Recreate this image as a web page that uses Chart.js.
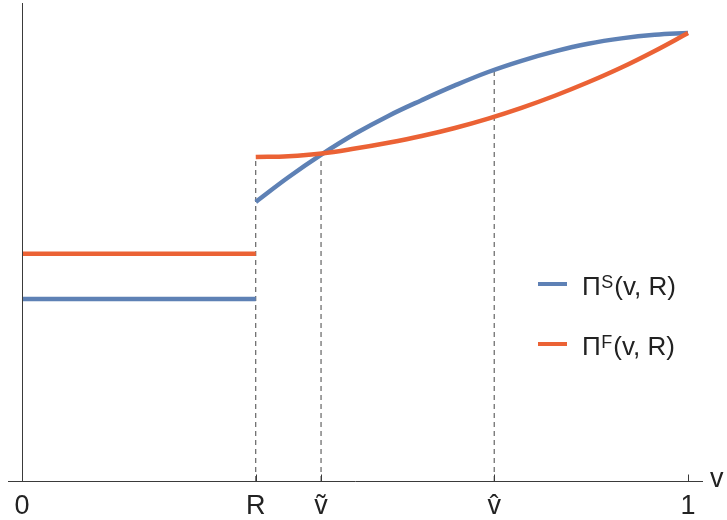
<!DOCTYPE html>
<html>
<head>
<meta charset="utf-8">
<script src="https://cdn.jsdelivr.net/npm/chart.js@4"></script>
<style>
html,body{margin:0;padding:0;background:#fff;}
#wrap{width:727px;height:520px;}
</style>
</head>
<body>
<div id="wrap"><canvas id="c" width="727" height="520"></canvas></div>
<script>
// ---- data ----
const R = 0.351, vTilde = 0.449, vHat = 0.709;
const tickValues = [0, R, vTilde, vHat, 1];
const tickLabels = ['0', 'R', '\u1E7D', 'v\u0302', '1'];
const axisLabel = 'v';

const vLow = [0, R];
const piSLow = [0.406, 0.406];
const piFLow = [0.507, 0.507];

const vHigh = [0.351, 0.40, 0.45, 0.50, 0.55, 0.60, 0.65, 0.70, 0.75, 0.80, 0.85, 0.90, 0.95, 1.0];
const piSHigh = [0.623, 0.678, 0.729, 0.775, 0.815, 0.850, 0.883, 0.913, 0.938, 0.959, 0.976, 0.988, 0.996, 1.0];
const piFHigh = [0.723, 0.725, 0.731, 0.742, 0.755, 0.770, 0.788, 0.809, 0.833, 0.860, 0.890, 0.923, 0.960, 1.0];

const dashX = [R, vTilde, vHat];
const dashTop = [0.723, 0.731, 0.918];

const seriesNames = ['S', 'F'];
const legendBase = '\u03A0';
const legendTail = '(v, R)';

const BLUE = '#5E81B5', ORANGE = '#EB6235';
const FONT = '"Liberation Sans", Arial, sans-serif';

const pts = (xs, ys) => xs.map((x, i) => ({x, y: ys[i]}));

const lineStyle = (color, order) => ({
  borderColor: color, backgroundColor: color, borderWidth: 4.5,
  pointRadius: 0, fill: false, order, tension: 0.4,
  borderCapStyle: 'butt'
});

const datasets = [
  Object.assign({label: 'S', data: pts(vLow, piSLow)}, lineStyle(BLUE, 2)),
  Object.assign({label: 'S', data: pts(vHigh, piSHigh)}, lineStyle(BLUE, 2)),
  Object.assign({label: 'F', data: pts(vLow, piFLow)}, lineStyle(ORANGE, 1)),
  Object.assign({label: 'F', data: pts(vHigh, piFHigh)}, lineStyle(ORANGE, 1)),
];
dashX.forEach((dx, i) => {
  datasets.push({
    label: 'dash', data: [{x: dx, y: 0}, {x: dx, y: dashTop[i]}],
    borderColor: '#444', borderWidth: 1, borderDash: [5, 4],
    pointRadius: 0, fill: false, order: 3, tension: 0
  });
});

const decor = {
  id: 'decor',
  afterDatasetsDraw(chart) {
    const {ctx, scales: {x, y}} = chart;
    const y0 = Math.round(y.getPixelForValue(0)) + 0.5;
    ctx.save();
    ctx.strokeStyle = '#3a3a3a';
    ctx.lineWidth = 1;
    // vertical axis at v = 0
    const x0 = Math.round(x.getPixelForValue(0)) + 0.5;
    ctx.beginPath();
    ctx.moveTo(x0, y0);
    ctx.lineTo(x0, y.getPixelForValue(y.max));
    ctx.stroke();
    // inward tick marks
    tickValues.forEach(v => {
      const px = Math.round(x.getPixelForValue(v)) + 0.5;
      ctx.beginPath();
      ctx.moveTo(px, y0);
      ctx.lineTo(px, y0 - 7);
      ctx.stroke();
    });
    // axis label
    ctx.fillStyle = '#222';
    ctx.font = '27px ' + FONT;
    ctx.textBaseline = 'middle';
    ctx.textAlign = 'left';
    ctx.fillText(axisLabel, x.right + 8, y0 - 2);
    // legend
    const colors = [BLUE, ORANGE];
    seriesNames.forEach((s, i) => {
      const base = 295 + i * 60;
      const ly = 284 + i * 60;
      ctx.strokeStyle = colors[i];
      ctx.lineWidth = 4;
      ctx.beginPath();
      ctx.moveTo(538, ly);
      ctx.lineTo(567, ly);
      ctx.stroke();
      ctx.fillStyle = '#222';
      ctx.textBaseline = 'alphabetic';
      ctx.font = '26px ' + FONT;
      let tx = 582;
      ctx.fillText(legendBase, tx, base);
      tx += ctx.measureText(legendBase).width + 0.5;
      ctx.font = '18px ' + FONT;
      ctx.fillText(s, tx, base - 7);
      tx += ctx.measureText(s).width + 1;
      ctx.font = '26px ' + FONT;
      ctx.fillText(legendTail, tx, base);
    });
    ctx.restore();
  }
};

new Chart(document.getElementById('c'), {
  type: 'line',
  data: {datasets},
  options: {
    responsive: false,
    animation: false,
    layout: {padding: {left: 8, right: 25, top: 3, bottom: 0}},
    plugins: {legend: {display: false}, tooltip: {enabled: false}},
    scales: {
      x: {
        type: 'linear', min: -0.021, max: 1.021,
        grid: {display: false, drawTicks: false},
        border: {display: true, color: '#3a3a3a', width: 1},
        afterBuildTicks: s => { s.ticks = tickValues.map(v => ({value: v})); },
        afterFit: s => { s.height = 39; },
        ticks: {
          autoSkip: false, maxRotation: 0, padding: 9,
          color: '#222', font: {family: FONT, size: 27},
          callback: (val, idx) => tickLabels[idx]
        }
      },
      y: {
        type: 'linear', min: 0, max: 1.067, display: false
      }
    }
  },
  plugins: [decor]
});
</script>
</body>
</html>
